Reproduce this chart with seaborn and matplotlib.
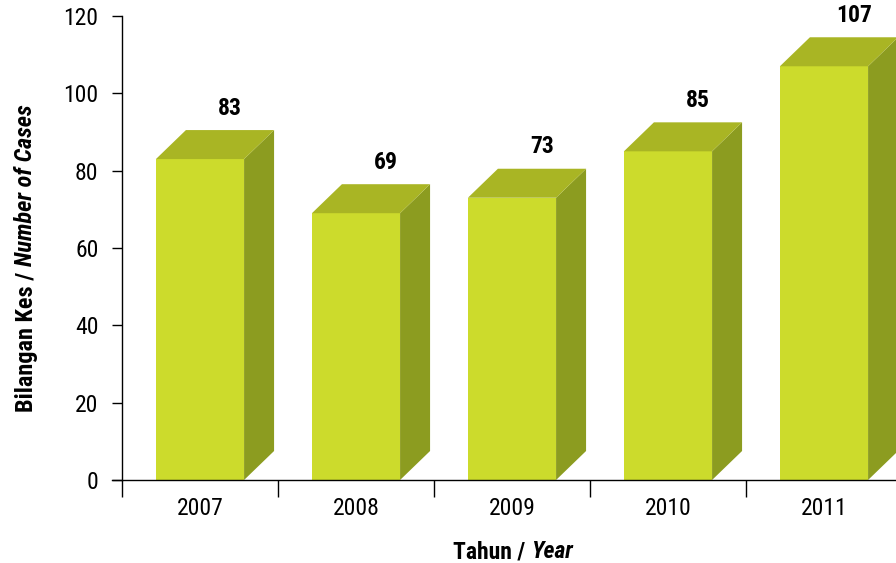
import matplotlib
matplotlib.use("Agg")
import matplotlib.pyplot as plt
from matplotlib import font_manager as fm
from matplotlib.patches import Polygon
import seaborn as sns

# data
years = ["2007", "2008", "2009", "2010", "2011"]
cases = [83, 69, 73, 85, 107]

FRONT = "#CCDB2C"
TOP = "#A9B524"
SIDE = "#8C9C20"

sns.set_theme(style="white")


def is_narrow(f):
    if "Narrow" in f.name or "Condensed" in f.name:
        return True
    return f.stretch in ("condensed", "semi-condensed", 500 - 125, 375)


# collect narrow faces per family, prefer one that also has an italic
faces = {}
for f in fm.fontManager.ttflist:
    if is_narrow(f):
        faces.setdefault(f.name, set()).add(f.style)

preferred = ["Liberation Sans Narrow", "Arial Narrow", "Roboto Condensed",
             "Noto Sans Condensed", "Open Sans Condensed", "Noto Sans", "Roboto",
             "Open Sans"]
chosen = None
for name in preferred:
    if name in faces and "italic" in faces[name]:
        chosen = name
        break
if chosen is None:
    for name, styles in faces.items():
        if "italic" in styles and "Sans" in name:
            chosen = name
            break

if chosen is not None:
    plt.rcParams['font.family'] = [chosen, 'DejaVu Sans']
    plt.rcParams['font.stretch'] = 'condensed'
    FS = 17
else:
    plt.rcParams['font.family'] = ['Liberation Sans', 'DejaVu Sans']
    FS = 15
plt.rcParams['text.color'] = 'black'
plt.rcParams['xtick.color'] = 'black'
plt.rcParams['ytick.color'] = 'black'

fig = plt.figure(figsize=(8.96, 5.63), dpi=100)
# axes box in pixels: x 112..902, y 16..480 (from top)
ax = fig.add_axes([112 / 896, 83 / 563, 790 / 896, 464 / 563])

sns.barplot(x=years, y=cases, color=FRONT, saturation=1, width=0.565, ax=ax)

px_x = 790 / (5 + 10 / 156)   # pixels per category unit
px_y = 464 / 120             # pixels per case
dx = 30 / px_x
dy = 29 / px_y

for bar, val in zip(ax.patches, cases):
    bar.set_edgecolor("none")
    x0 = bar.get_x()
    w = bar.get_width()
    h = bar.get_height()
    side = Polygon([(x0 + w, 0), (x0 + w + dx, dy), (x0 + w + dx, h + dy), (x0 + w, h)],
                   closed=True, facecolor=SIDE, edgecolor="none", clip_on=False)
    top = Polygon([(x0, h), (x0 + dx, h + dy), (x0 + w + dx, h + dy), (x0 + w, h)],
                  closed=True, facecolor=TOP, edgecolor="none", clip_on=False)
    ax.add_patch(side)
    ax.add_patch(top)
    ax.annotate(str(val), xy=(x0 + w / 2 + dx, h + dy), xytext=(0, 11),
                textcoords="offset points", ha="center", va="baseline",
                fontsize=FS, fontweight="bold", color="black", annotation_clip=False)

ax.set_xlim(-0.5 - 10 / 156, 4.5)
ax.set_ylim(0, 120)

for s in ["top", "right"]:
    ax.spines[s].set_visible(False)
ax.spines["left"].set_position(("data", -0.5))
ax.spines["left"].set_bounds(0, 120)
for s in ["left", "bottom"]:
    ax.spines[s].set_color("black")
    ax.spines[s].set_linewidth(1.0)

ax.set_yticks(range(0, 121, 20))
ax.tick_params(axis="y", which="major", direction="out", length=7, width=1,
               labelsize=FS, pad=10, left=True)

ax.set_xticks([i - 0.5 for i in range(6)])
ax.set_xticklabels([])
ax.set_xticks(range(5), minor=True)
ax.set_xticklabels(years, minor=True)
ax.tick_params(axis="x", which="major", direction="out", length=12, width=1,
               bottom=True)
ax.tick_params(axis="x", which="minor", length=0, labelsize=FS, pad=12)
ax.set_xlabel("")
ax.set_ylabel("")

# axis titles: bold part + bold italic part
t1 = fig.text(453 / 896, 5 / 563, "Tahun / ", ha="left", va="baseline",
              fontsize=FS, fontweight="bold")
ax.annotate("Year", xy=(1, 0), xycoords=t1, ha="left", va="bottom",
            fontsize=FS, fontweight="bold", style="italic")

y1 = fig.text(26 / 896, 151 / 563, "Bilangan Kes / ", rotation=90, ha="center",
              va="bottom", fontsize=FS + 0.5, fontweight="bold")
ax.annotate("Number of Cases", xy=(0.5, 1), xycoords=y1, rotation=90,
            ha="center", va="bottom", fontsize=FS + 0.5, fontweight="bold", style="italic")

fig.savefig("out.png", dpi=100)
